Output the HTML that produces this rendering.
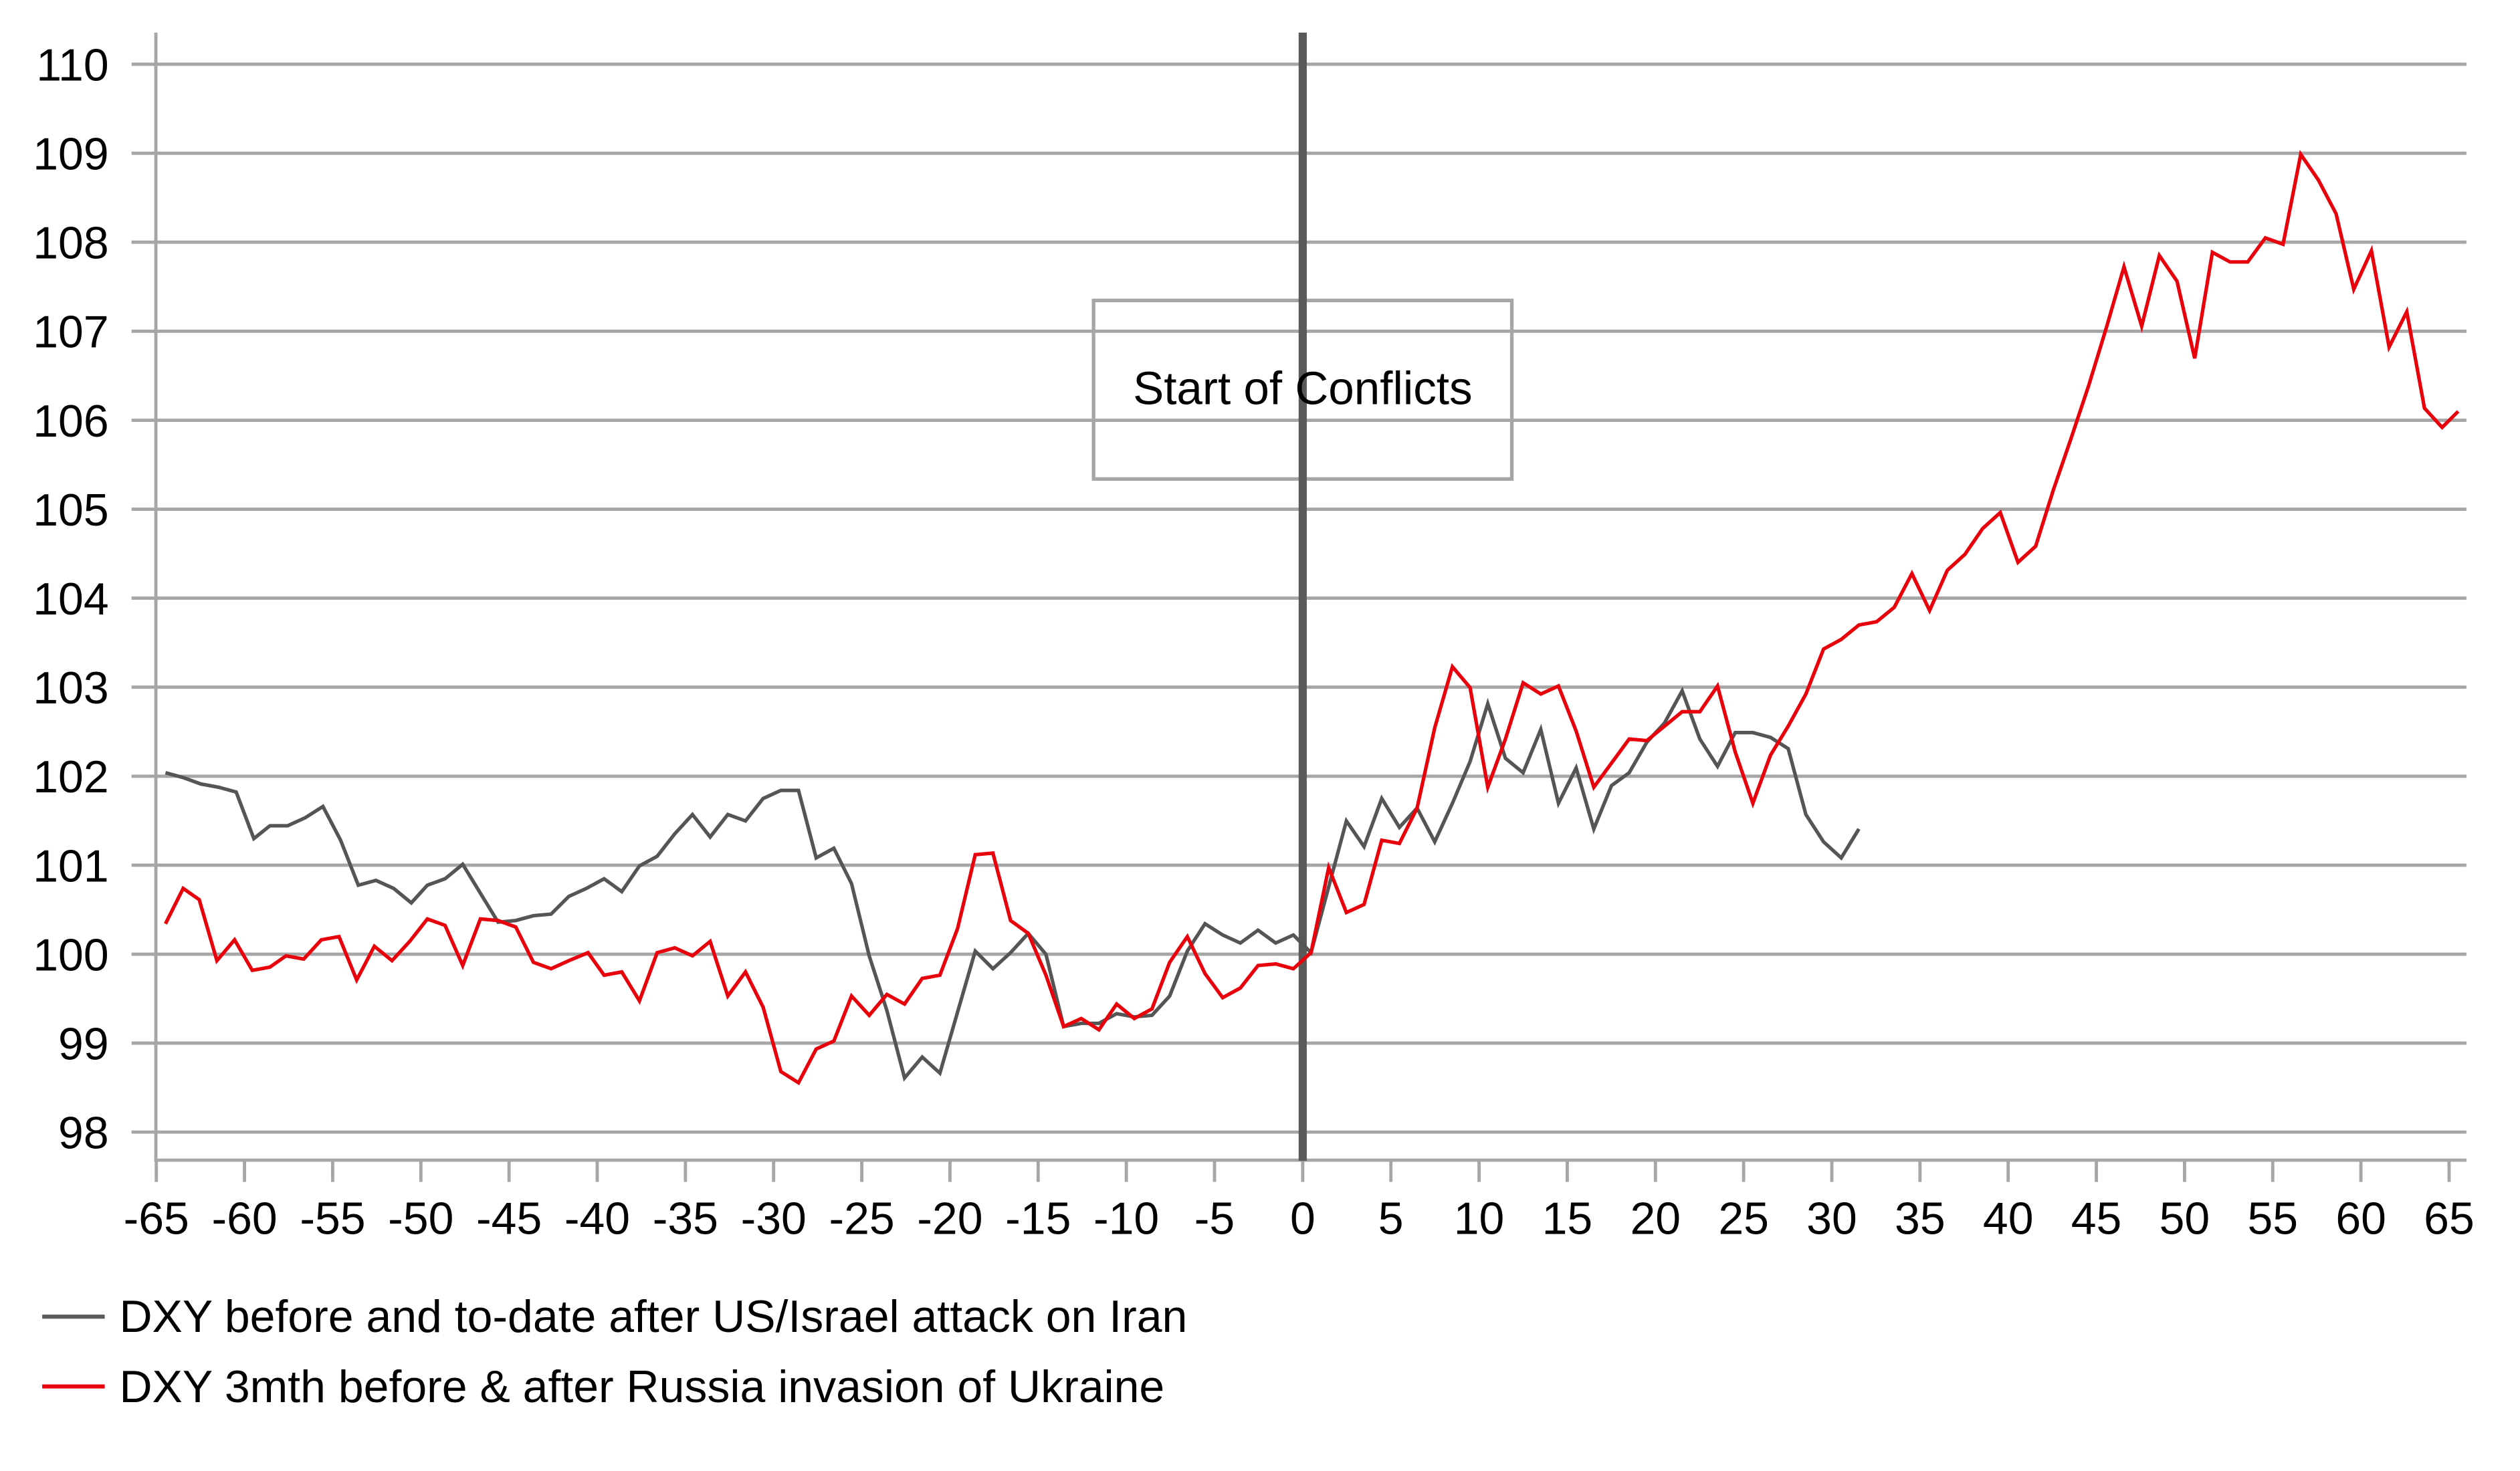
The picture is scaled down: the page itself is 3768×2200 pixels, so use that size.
<!DOCTYPE html>
<html><head><meta charset="utf-8"><style>html,body{margin:0;padding:0;background:#fff}svg{display:block}</style></head>
<body>
<svg xmlns="http://www.w3.org/2000/svg" width="3768" height="2200" viewBox="0 0 1552 906" font-family="Liberation Sans, Arial, sans-serif">
<rect width="1552" height="906" fill="#fff"/>
<g stroke="#a6a6a6" stroke-width="2">
<line x1="81" x2="1519" y1="39.5" y2="39.5"/><line x1="81" x2="1519" y1="94.3" y2="94.3"/><line x1="81" x2="1519" y1="149.1" y2="149.1"/><line x1="81" x2="1519" y1="204" y2="204"/><line x1="81" x2="1519" y1="258.8" y2="258.8"/><line x1="81" x2="1519" y1="313.6" y2="313.6"/><line x1="81" x2="1519" y1="368.4" y2="368.4"/><line x1="81" x2="1519" y1="423.2" y2="423.2"/><line x1="81" x2="1519" y1="478.1" y2="478.1"/><line x1="81" x2="1519" y1="532.9" y2="532.9"/><line x1="81" x2="1519" y1="587.7" y2="587.7"/><line x1="81" x2="1519" y1="642.5" y2="642.5"/><line x1="81" x2="1519" y1="697.3" y2="697.3"/>
<line x1="96" x2="96" y1="20" y2="715.5"/>
<line x1="95" x2="1519" y1="714.6" y2="714.6"/>
</g>
<g stroke="#a6a6a6" stroke-width="2" id="ticks"></g>
<g font-size="28" fill="#000" text-anchor="end">
<text x="67" y="49.5">110</text><text x="67" y="104.3">109</text><text x="67" y="159.1">108</text><text x="67" y="214">107</text><text x="67" y="268.8">106</text><text x="67" y="323.6">105</text><text x="67" y="378.4">104</text><text x="67" y="433.2">103</text><text x="67" y="488.1">102</text><text x="67" y="542.9">101</text><text x="67" y="597.7">100</text><text x="67" y="652.5">99</text><text x="67" y="707.3">98</text>
</g>
<g font-size="28" fill="#000" text-anchor="middle" id="xl"></g>
<rect x="673.5" y="185" width="257.6" height="110" fill="none" stroke="#a6a6a6" stroke-width="2.2"/>
<line x1="802.3" x2="802.3" y1="20" y2="715" stroke="#595959" stroke-width="5"/>
<text x="802.3" y="249" font-size="28.5" text-anchor="middle">Start of Conflicts</text>
<g transform="scale(0.9895)">
<polyline fill="none" stroke="#555" stroke-width="2.2" points="103,481 114,484 125,488 136,490 147,493 158,522 168,514 179,514 190,509 201,502 212,523 223,551 234,548 245,553 256,562 266,551 277,547 288,538 299,556 310,574 321,573 332,570 343,569 354,558 365,553 376,547 387,555 398,539 409,533 420,519 431,507 442,521 453,507 464,511 475,497 486,492 497,492 508,534 519,528 530,550 541,595 552,629 563,671 574,658 585,668 596,630 607,592 618,603 629,593 640,581 651,594 662,639 673,637 684,637 695,631 706,633 717,632 728,620 739,592 750,575 761,582 772,587 783,579 794,587 805,582 816,593 827,552 838,511 849,527 860,497 871,515 882,503 893,524 904,500 915,474 926,438 937,472 948,481 959,454 970,500 981,478 992,516 1003,489 1014,481 1025,462 1036,450 1047,430 1058,460 1069,477 1080,456 1091,456 1102,459 1113,466 1124,507 1135,524 1146,534 1157,516"/>
<polyline fill="none" stroke="#e8000b" stroke-width="2.2" points="103,575 114,553 124,560 135,598 146,585 157,604 168,602 178,595 189,597 200,585 211,583 222,610 233,589 244,598 255,586 266,572 277,576 288,601 299,572 310,573 321,577 332,599 343,603 354,598 366,593 376,607 387,605 398,623 409,593 420,590 431,595 442,586 453,620 464,605 475,627 486,667 497,674 508,653 519,648 530,620 541,632 552,619 563,625 574,609 585,607 596,578 607,532 618,531 629,573 640,581 651,607 662,639 673,634 684,641 695,625 706,634 717,628 728,599 739,583 750,606 761,621 772,615 783,601 794,600 805,603 816,593 827,540 838,568 849,563 860,523 871,525 882,503 893,453 904,415 915,428 926,490 937,460 948,425 959,432 970,427 981,455 992,490 1003,475 1014,460 1025,461 1036,452 1047,443 1058,443 1069,427 1080,468 1091,500 1102,470 1113,452 1124,432 1135,404 1146,398 1157,389 1168,387 1179,378 1190,357 1201,380 1212,355 1223,345 1234,329 1245,319 1256,350 1267,340 1278,305 1289,273 1300,240 1311,204 1322,166 1333,203 1344,159 1355,175 1366,223 1377,157 1388,163 1399,163 1410,148 1421,152 1432,96 1443,112 1454,133 1465,180 1476,156 1487,216 1498,194 1509,254 1520,266 1530,256"/>
</g>
<line x1="26" x2="64.5" y1="811" y2="811" stroke="#5a5a5a" stroke-width="2.5"/>
<text x="73.5" y="820.5" font-size="28">DXY before and to-date after US/Israel attack on Iran</text>
<line x1="26" x2="64.5" y1="854" y2="854" stroke="#e8000b" stroke-width="2.5"/>
<text x="73.5" y="863.6" font-size="28">DXY 3mth before &amp; after Russia invasion of Ukraine</text>
<script>
var t=document.getElementById('ticks'),l=document.getElementById('xl'),ns='http://www.w3.org/2000/svg';
for(var d=-65;d<=65;d+=5){var x=802.3+d*10.862;var ln=document.createElementNS(ns,'line');ln.setAttribute('x1',x);ln.setAttribute('x2',x);ln.setAttribute('y1',714.6);ln.setAttribute('y2',728);t.appendChild(ln);
var tx=document.createElementNS(ns,'text');tx.setAttribute('x',x);tx.setAttribute('y',760);tx.textContent=d;l.appendChild(tx);}
</script>
</svg>
</body></html>
